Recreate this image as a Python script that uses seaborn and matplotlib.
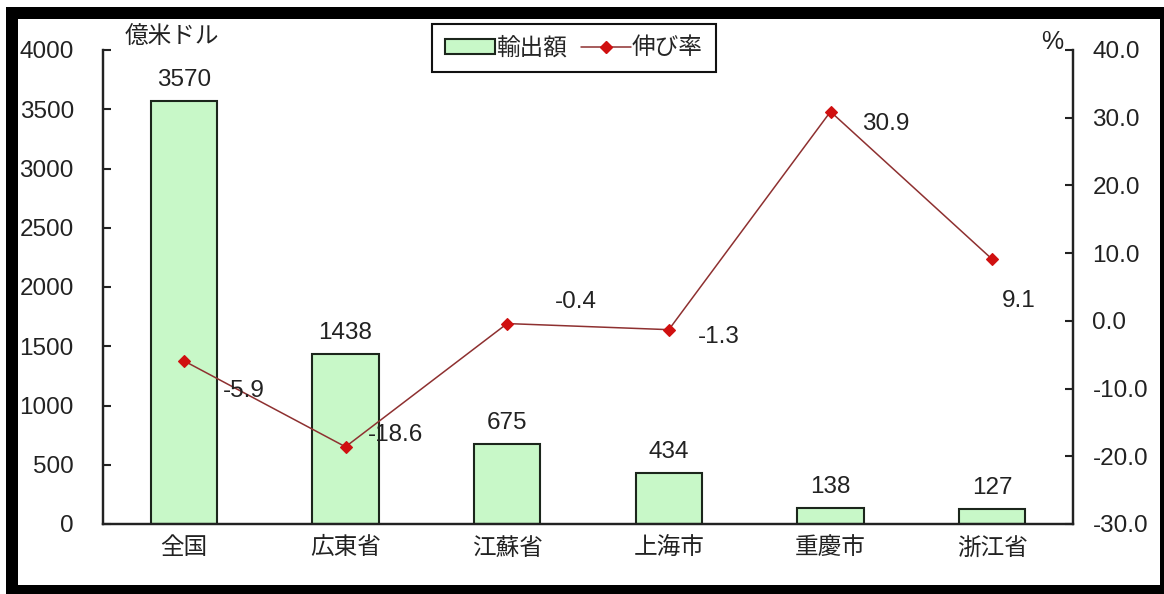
import matplotlib
matplotlib.use("Agg")
import matplotlib.pyplot as plt
import seaborn as sns
import numpy as np
import pandas as pd
from matplotlib.patches import Patch, Rectangle
from matplotlib.lines import Line2D
from matplotlib.ticker import FixedLocator, FormatStrFormatter

# ---- data ----
categories = ["全国", "広東省", "江蘇省", "上海市", "重慶市", "浙江省"]
exports = [3570, 1438, 675, 434, 138, 127]
growth = [-5.9, -18.6, -0.4, -1.3, 30.9, 9.1]
left_ticks = [0, 500, 1000, 1500, 2000, 2500, 3000, 3500, 4000]
right_ticks = [-30, -20, -10, 0, 10, 20, 30, 40]
left_unit = "億米ドル"
right_unit = "%"
legend_labels = ["輸出額", "伸び率"]
# label offsets (pixels) for growth labels
growth_offsets = [(60, -30), (50, 12), (69, 22), (50, -7), (55, -12), (27, -42)]

sns.set_style("white")
NUM_FONT = ["Liberation Sans", "DejaVu Sans"]
CJK_FONT = ["Noto Sans CJK JP", "DejaVu Sans"]
plt.rcParams["font.family"] = NUM_FONT + ["Noto Sans CJK JP"]

W, H = 1164, 594
fig = plt.figure(figsize=(W / 100, H / 100), dpi=100)
ax = fig.add_axes([103 / W, 1 - 524 / H, (1073 - 103) / W, (524 - 50) / H])

df = pd.DataFrame({"cat": categories, "exports": exports, "growth": growth})

bar_color = "#C8F8C8"
edge_color = "#1c261c"
sns.barplot(data=df, x="cat", y="exports", ax=ax, color=bar_color,
            edgecolor=edge_color, linewidth=1.5, width=0.41, saturation=1)
ax.set_ylim(0, 4000)
ax.yaxis.set_major_locator(FixedLocator(left_ticks))
ax.set_xlabel("")
ax.set_ylabel("")

ax.bar_label(ax.containers[0], labels=[str(v) for v in exports], padding=7,
             fontsize=17.5, color="#222222")

ax2 = ax.twinx()
line_color = "#8E3030"
marker_color = "#D01010"
sns.pointplot(data=df, x="cat", y="growth", ax=ax2, color=line_color,
              markers="D", linestyles="-", markersize=6, linewidth=1.1)
ln = ax2.lines[0]
ln.set_markerfacecolor(marker_color)
ln.set_markeredgecolor(marker_color)
ax2.set_ylim(-30, 40)
ax2.yaxis.set_major_locator(FixedLocator(right_ticks))
ax2.yaxis.set_major_formatter(FormatStrFormatter("%.1f"))
ax2.set_ylabel("")
ax2.set_xlabel("")

for i, (g, off) in enumerate(zip(growth, growth_offsets)):
    ax2.annotate(f"{g:.1f}", xy=(i, g), xytext=off, textcoords="offset pixels",
                 ha="center", va="center", fontsize=17.5, color="#222222")

ax.set_xlim(-0.5, len(categories) - 0.5)
ax2.set_xlim(-0.5, len(categories) - 0.5)

# spines
for a in (ax, ax2):
    a.spines["top"].set_visible(False)
    for s in ("left", "right", "bottom"):
        a.spines[s].set_color("#222222")
        a.spines[s].set_linewidth(1.6)

# ticks
ax.tick_params(axis="y", direction="in", length=6, width=1.5, pad=21,
               labelsize=17.5, colors="#222222")
ax2.tick_params(axis="y", direction="in", length=6, width=1.5, pad=14,
                labelsize=17.5, colors="#222222")
ax.set_xticks(range(len(categories)))
ax.set_xticklabels(categories, fontsize=17, fontfamily=CJK_FONT)
ax.tick_params(axis="x", which="major", length=0, pad=9, colors="#222222")
ax.xaxis.set_minor_locator(FixedLocator(np.arange(0.5, len(categories) - 1, 1.0)))
ax.tick_params(axis="x", which="minor", direction="in", length=6, width=1.5,
               color="#222222")

# unit labels
fig.text(125 / W, 1 - 37 / H, left_unit, fontsize=17, va="center", ha="left",
         fontfamily=CJK_FONT, color="#222222")
fig.text(1052 / W, 1 - 42 / H, right_unit, fontsize=18, va="center", ha="center",
         color="#222222")

# legend
handles = [Patch(facecolor=bar_color, edgecolor=edge_color, linewidth=1.5),
           Line2D([0], [0], color=line_color, lw=1.1, marker="D", markersize=6,
                  markerfacecolor=marker_color, markeredgecolor=marker_color)]
leg = fig.legend(handles, legend_labels, loc="center",
                 bbox_to_anchor=(574 / W, 1 - 48 / H), ncol=2, frameon=True,
                 fancybox=False, edgecolor="#111111", framealpha=1,
                 prop={"family": CJK_FONT, "size": 17},
                 handlelength=2.1, handleheight=0.6, handletextpad=0.05,
                 columnspacing=0.6, borderpad=0.55, borderaxespad=0)
leg.get_frame().set_linewidth(1.5)

# black frame around the figure
frame_kw = dict(transform=fig.transFigure, facecolor="black", edgecolor="none",
                zorder=10)
fig.add_artist(Rectangle((6 / W, 0), 12 / W, 1 - 7 / H, **frame_kw))
fig.add_artist(Rectangle((6 / W, 1 - 19 / H), (W - 6) / W, 12 / H, **frame_kw))
fig.add_artist(Rectangle((1160 / W, 0), 4 / W, 1 - 7 / H, **frame_kw))
fig.add_artist(Rectangle((6 / W, 0), (W - 6) / W, 9 / H, **frame_kw))

fig.savefig("out.png", dpi=100)
